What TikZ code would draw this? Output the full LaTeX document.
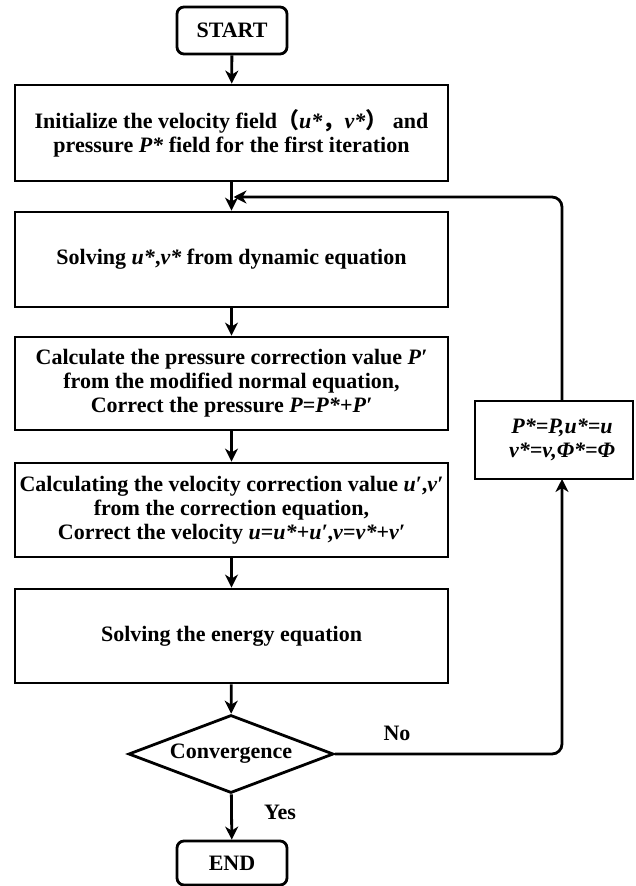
\documentclass[tikz,border=0pt]{standalone}
\usepackage{fontspec}
\setmainfont{Liberation Serif}
\newfontfamily\cjk{Noto Sans CJK SC}
\usetikzlibrary{arrows.meta,shapes.geometric}
\newcommand{\bi}[1]{\textbf{\textit{#1}}}
\begin{document}
\begin{tikzpicture}[x=1pt,y=-1pt,
  every node/.style={font=\fontsize{22}{24}\selectfont\bfseries, align=center, inner sep=0pt},
  box/.style={draw, line width=2.8pt, rectangle, minimum width=433pt},
  term/.style={draw, line width=2.8pt, rectangle, rounded corners=7pt, minimum width=110pt},
  dec/.style={draw, line width=2.8pt, diamond, minimum width=205pt, minimum height=78pt, aspect=2.6},
  arr/.style={line width=2.8pt, -{Stealth[length=13pt,width=13pt,inset=4pt]}},
  lbl/.style={font=\fontsize{22}{24}\selectfont\bfseries}
]
\useasboundingbox (0,0) rectangle (636,886);
\node[term, minimum height=47pt] (start) at (232,30.5) {START};
\node[box, minimum height=96pt] (init) at (231.5,133) {Initialize the velocity field{\cjk （}\bi{u*}{\cjk ，}\bi{v*}{\cjk ）} and\\pressure \bi{P*} field for the first iteration};
\node[box, minimum height=95pt] (solve) at (231.5,259.5) {Solving \bi{u*},\bi{v*} from dynamic equation};
\node[box, minimum height=93pt] (calc) at (231.5,383.5) {Calculate the pressure correction value \bi{P′}\\from the modified normal equation,\\Correct the pressure \bi{P}=\bi{P*}+\bi{P′}};
\node[box, minimum height=94pt] (vel) at (231.5,510) {Calculating the velocity correction value \bi{u′},\bi{v′}\\from the correction equation,\\Correct the velocity \bi{u}=\bi{u*}+\bi{u′},\bi{v}=\bi{v*}+\bi{v′}};
\node[box, minimum height=94pt] (energy) at (231.5,636) {Solving the energy equation};
\node[dec] (conv) at (231,754) {Convergence};
\node[term, minimum height=44pt] (end) at (232,863) {END};
\node[draw, line width=2.8pt, minimum width=158pt, minimum height=78pt] (pbox) at (554,440) {};
\node (ptext) at (562,440) {\bi{P*=P,u*=u}\\\bi{v*=v,Φ*=Φ}};
\node[lbl] (no) at (397,733) {No};
\node[lbl] (yes) at (280,812) {Yes};
\coordinate (c1) at (562,754);
\coordinate (pb) at (562,479);
\coordinate (pt) at (562,401);
\coordinate (c2) at (562,197);
\coordinate (m) at (233.5,197);
\draw[arr] (start) -- (init);
\draw[arr] (init) -- (solve);
\draw[arr] (solve) -- (calc);
\draw[arr] (calc) -- (vel);
\draw[arr] (vel) -- (energy);
\draw[arr] (energy) -- (conv);
\draw[arr] (conv) -- (end);
\draw[arr, rounded corners=10pt] (conv.east) -- (c1) -- (pb);
\draw[arr, rounded corners=10pt] (pt) -- (c2) -- (m);
\end{tikzpicture}
\end{document}
